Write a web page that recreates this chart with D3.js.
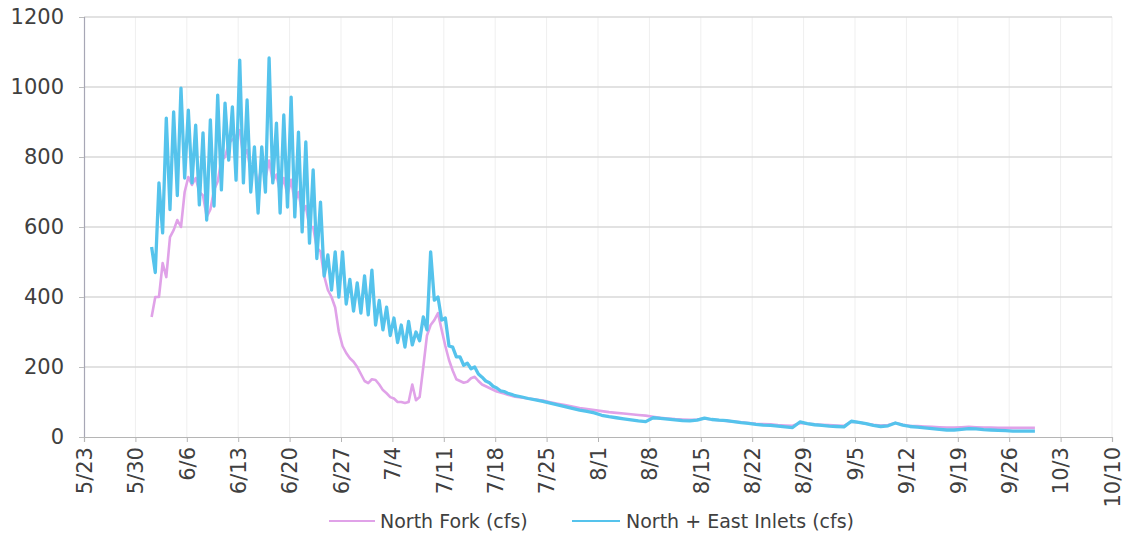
<!DOCTYPE html>
<html><head><meta charset="utf-8">
<script src="https://cdn.jsdelivr.net/npm/d3@7"></script>
<style>
body{margin:0;background:#fff}
svg{display:block}
text{font-family:"DejaVu Sans",sans-serif;fill:#404040}
</style>
</head><body>
<svg id="chart" width="1130" height="540"></svg>
<script>
const seriesNames = ["North Fork (cfs)", "North + East Inlets (cfs)"];
const seriesColors = ["#e0a2e8", "#55c3ec"];
const yTicks = [0, 200, 400, 600, 800, 1000, 1200];
const xTickLabels = ["5/23","5/30","6/6","6/13","6/20","6/27","7/4","7/11","7/18","7/25","8/1","8/8","8/15","8/22","8/29","9/5","9/12","9/19","9/26","10/3","10/10"];

// twice-daily readings (daily peak, then daily low) from 6/1 to 7/20
const halfDayStart = "2021-06-01T05:00:00Z";
const northForkHalfDay = [
  343,400, 400,497, 457,571, 591,620, 600,700, 743,720, 740,700, 690,629, 650,706, 730,791,
  800,840, 849,860, 877,800, 820,760, 770,720, 780,740, 790,730, 750,700, 740,690, 735,670,
  700,640, 660,600, 600,540, 530,460, 420,400, 370,300, 260,240, 225,215, 200,180, 160,154,
  165,163, 150,134, 125,114, 110,100, 100,97, 100,150, 105,114, 200,290, 320,334, 354,306,
  260,220, 190,165, 160,155, 158,168, 172,160, 150,145, 140,135, 130,127, 124,121, 118,115
];
const inletsHalfDay = [
  543,470, 726,583, 911,650, 929,690, 997,740, 934,726, 891,663, 869,620, 906,660, 977,706,
  954,791, 943,734, 1077,726, 963,700, 829,640, 829,700, 1083,726, 897,640, 920,657, 971,629,
  871,586, 843,554, 763,510, 671,460, 520,420, 529,400, 529,380, 450,360, 440,354, 460,349,
  477,320, 390,306, 371,290, 340,270, 320,257, 330,263, 300,275, 343,306, 529,391, 400,334,
  340,260, 257,229, 229,205, 211,195, 200,180, 171,160, 155,145, 140,132, 130,125, 122,118
];

// daily readings from 7/21 to 9/29
const dailyStart = "2021-07-21T12:00:00Z";
const northForkDaily = [
  113,110,107,104,99,95,91,87,83,80,77,
  74,71,69,67,65,63,61,58,55,53,51,50,49,50,53,50,48,46,44,42,40,38,37,36,34,33,32,40,38,36,35,
  34,33,32,44,42,38,35,33,34,40,35,32,31,30,29,28,27,27,28,29,28,27,27,26,26,26,26,26,26
];
const inletsDaily = [
  115,110,106,102,97,92,87,82,77,73,69,
  62,58,55,52,49,46,44,55,53,51,49,47,46,48,54,50,48,47,44,41,39,36,34,33,31,29,27,43,38,35,33,
  31,30,29,45,42,38,33,30,32,40,34,30,28,26,24,22,20,20,22,24,23,21,20,19,18,17,17,17,17
];

const HOUR = 3600 * 1000;
function buildSeries(halfDay, daily) {
  const t0 = new Date(halfDayStart).getTime();
  const t1 = new Date(dailyStart).getTime();
  const pts = halfDay.map((v, i) => ({ date: new Date(t0 + i * 12 * HOUR), value: v }));
  daily.forEach((v, i) => pts.push({ date: new Date(t1 + i * 24 * HOUR), value: v }));
  return pts;
}
const series = [
  { name: seriesNames[0], color: seriesColors[0], width: 2.6, data: buildSeries(northForkHalfDay, northForkDaily) },
  { name: seriesNames[1], color: seriesColors[1], width: 3.3, data: buildSeries(inletsHalfDay, inletsDaily) }
];

const parseTick = d3.utcParse("%Y/%m/%d");
const tickDates = xTickLabels.map(l => parseTick("2021/" + l));

const svg = d3.select("#chart");
const L = 84, R = 1112, T = 17, B = 437;

const x = d3.scaleUtc().domain([tickDates[0], tickDates[tickDates.length - 1]]).range([L, R]);
const y = d3.scaleLinear().domain([0, 1200]).range([B, T]);

// gridlines
svg.append("g").selectAll("line").data(tickDates.slice(1)).join("line")
  .attr("x1", d => x(d)).attr("x2", d => x(d)).attr("y1", T).attr("y2", B)
  .attr("stroke", "#efefef").attr("stroke-width", 1);
svg.append("g").selectAll("line").data(yTicks.slice(1)).join("line")
  .attr("x1", L).attr("x2", R).attr("y1", d => y(d)).attr("y2", d => y(d))
  .attr("stroke", "#d9d9d9").attr("stroke-width", 1.5);

// axes
const yAxis = svg.append("g").attr("transform", `translate(${L},0)`)
  .call(d3.axisLeft(y).tickValues(yTicks).tickSize(5).tickPadding(15).tickFormat(d3.format("d")));
yAxis.select(".domain").attr("stroke", "#a7a7b5").attr("stroke-width", 1.2);
yAxis.selectAll(".tick line").attr("stroke", "#bdbdbd");
yAxis.selectAll(".tick text").attr("font-size", 21).attr("fill", "#404040");

const xAxis = svg.append("g").attr("transform", `translate(0,${B})`)
  .call(d3.axisBottom(x).tickValues(tickDates).tickSize(5).tickFormat((d, i) => xTickLabels[i]));
xAxis.select(".domain").attr("stroke", "#b5b5b5").attr("stroke-width", 1.2);
xAxis.selectAll(".tick line").attr("stroke", "#b5b5b5");
xAxis.selectAll(".tick text")
  .attr("font-size", 21).attr("fill", "#404040")
  .attr("text-anchor", "end")
  .attr("transform", "rotate(-90)")
  .attr("x", -10).attr("y", 0).attr("dy", "0.35em");

// lines
const line = d3.line().x(d => x(d.date)).y(d => y(d.value)).curve(d3.curveLinear);
svg.append("g").selectAll("path").data(series).join("path")
  .attr("d", d => line(d.data))
  .attr("fill", "none")
  .attr("stroke", d => d.color)
  .attr("stroke-width", d => d.width)
  .attr("stroke-linejoin", "round");

// legend
const legendItems = [
  { name: seriesNames[0], color: seriesColors[0], x0: 329, x1: 375, tx: 380 },
  { name: seriesNames[1], color: seriesColors[1], x0: 572, x1: 620, tx: 626 }
];
const lg = svg.append("g");
legendItems.forEach(it => {
  lg.append("line").attr("x1", it.x0).attr("x2", it.x1).attr("y1", 521).attr("y2", 521)
    .attr("stroke", it.color).attr("stroke-width", 2.2);
  lg.append("text").attr("x", it.tx).attr("y", 521).attr("dy", "0.35em")
    .attr("font-size", 19).attr("fill", "#404040").text(it.name);
});
</script>
</body></html>
